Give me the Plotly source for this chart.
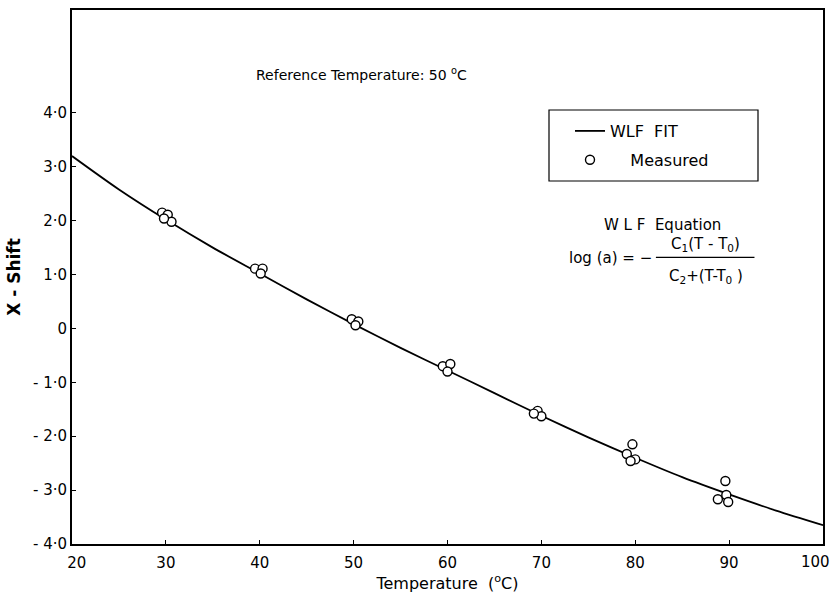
import plotly.graph_objects as go

# WLF fit curve
fit_T = [20, 25, 30, 35, 40, 45, 50, 55, 60, 65, 70, 75, 80, 85, 90, 95, 100]
fit_shift = [3.20, 2.58, 2.02, 1.50, 1.02, 0.54, 0.08, -0.36, -0.78, -1.20,
             -1.62, -2.02, -2.40, -2.76, -3.08, -3.38, -3.65]

# measured shift factors
meas_T = [29.6, 30.2, 30.6, 29.8,
          39.5, 40.3, 40.1,
          49.8, 50.5, 50.2,
          59.5, 60.3, 60.0,
          69.6, 70.0, 69.2,
          79.7, 79.1, 80.0, 79.5,
          89.6, 88.8, 89.7, 89.9]
meas_shift = [2.15, 2.11, 1.98, 2.04,
              1.11, 1.11, 1.02,
              0.17, 0.13, 0.06,
              -0.70, -0.66, -0.80,
              -1.53, -1.63, -1.58,
              -2.15, -2.33, -2.43, -2.46,
              -2.83, -3.17, -3.09, -3.22]

NB = "\u00a0"
x_ticks = [20, 30, 40, 50, 60, 70, 80, 90]
x_tick_text = [NB * 2 + "20", "30", "40", "50", "60", "70", "80", "90"]
x_last_tick = "100"   # sits on the right frame, written as its own label
y_ticks = [4, 3, 2, 1, 0, -1, -2, -3, -4]
y_tick_text = ["4·0", "3·0", "2·0", "1·0", "0", "- 1·0", "- 2·0", "- 3·0", "- 4·0"]

FONT = "DejaVu Sans"

fig = go.Figure()
fig.add_trace(go.Scatter(
    x=fit_T, y=fit_shift, mode="lines", name="WLF" + NB * 2 + "FIT",
    legendgroup="fit",
    line=dict(color="black", width=1.8, shape="spline", smoothing=0.8),
))
fig.add_trace(go.Scatter(
    x=meas_T, y=meas_shift, mode="markers", name=NB * 4 + "Measured",
    legendgroup="meas",
    marker=dict(symbol="circle", size=9, color="white",
                line=dict(color="black", width=1.4)),
))

axis_common = dict(
    showgrid=False, zeroline=False, showline=True, linecolor="black",
    linewidth=2, mirror=True, ticks="inside", ticklen=4, tickcolor="black",
    tickfont=dict(family=FONT, size=15, color="black"), automargin=False,
)
fig.update_xaxes(range=[20, 100], tickvals=x_ticks, ticktext=x_tick_text,
                 ticklabelstandoff=4,
                 title=dict(text="Temperature  (<sup>o</sup>C)",
                            font=dict(family=FONT, size=16, color="black"),
                            standoff=6),
                 **axis_common)
fig.update_yaxes(range=[-4, 5.91], tickvals=y_ticks, ticktext=y_tick_text,
                 title=dict(text="<b>X - Shift</b>",
                            font=dict(family=FONT, size=17, color="black"),
                            standoff=8),
                 **axis_common)

# last x tick label, right-aligned at the frame so it stays inside the page
fig.add_annotation(x=1, y=0, xref="paper", yref="paper", text=x_last_tick,
                   xanchor="right", yanchor="top", xshift=9, yshift=-7,
                   showarrow=False, font=dict(family=FONT, size=15, color="black"))

annots = [
    dict(x=50.8, y=4.72, text="Reference Temperature: 50 <sup>o</sup>C",
         font=dict(size=14)),
    dict(x=82.9, y=1.92, text="W L F  Equation", font=dict(size=15)),
    dict(x=82.0, y=1.30, text="log (a) = −", xanchor="right", font=dict(size=15)),
    dict(x=87.5, y=1.56, text="C<sub>1</sub>(T - T<sub>0</sub>)", font=dict(size=15)),
    dict(x=87.5, y=0.97, text="C<sub>2</sub>+(T-T<sub>0</sub> )", font=dict(size=15)),
]
for a in annots:
    a.setdefault("xanchor", "center")
    a.update(xref="x", yref="y", showarrow=False, yanchor="middle")
    a["font"] = dict(family=FONT, color="black", **a["font"])
    fig.add_annotation(**a)

# fraction bar of the equation
fig.add_shape(type="line", xref="x", yref="y", x0=82.2, x1=92.7, y0=1.32, y1=1.32,
              line=dict(color="black", width=1.2))

# legend frame (pixel box 549..758 x 110..181 -> paper coords)
fig.add_shape(type="rect", xref="paper", yref="paper",
              x0=(549 - 72) / 751, x1=(758 - 72) / 751,
              y0=(544 - 181) / 534, y1=(544 - 110) / 534,
              line=dict(color="black", width=1.2), fillcolor="rgba(0,0,0,0)")

fig.update_layout(
    width=833, height=599,
    margin=dict(l=72, r=10, t=10, b=55, autoexpand=False),
    paper_bgcolor="white", plot_bgcolor="white",
    showlegend=True,
    legend=dict(x=(570 - 72) / 751, y=(544 - 114) / 534, xanchor="left", yanchor="top",
                borderwidth=0, bgcolor="rgba(0,0,0,0)",
                font=dict(family=FONT, size=16, color="black"),
                itemwidth=30, tracegroupgap=5),
)

fig.write_html("out.html")
